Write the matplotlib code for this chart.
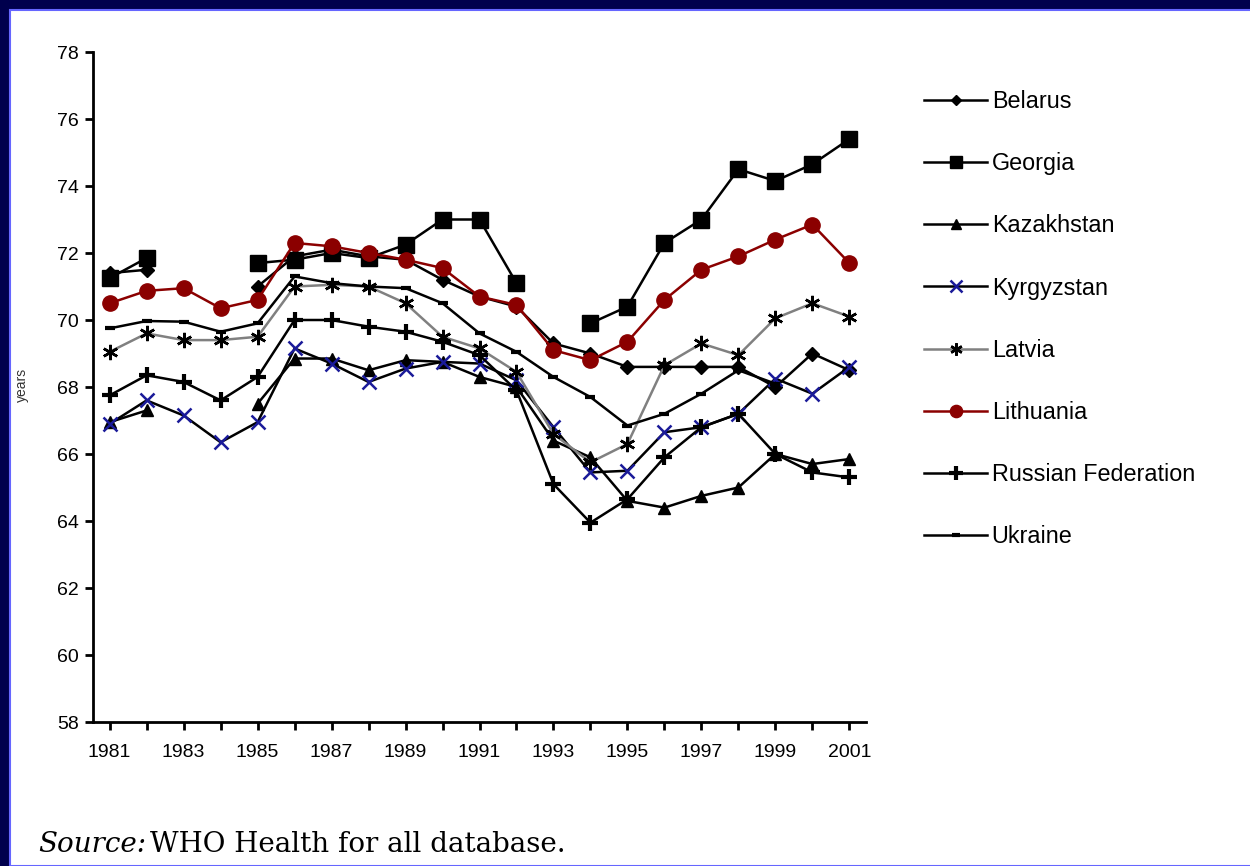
import numpy as np
import matplotlib.pyplot as plt
from matplotlib.patches import Rectangle

nan = np.nan
years = list(range(1981, 2002))

belarus = [71.4, 71.5, nan, nan, 71.0, 71.9, 72.1, 71.9, 71.8, 71.2, 70.7,
           70.4, 69.3, 69.0, 68.6, 68.6, 68.6, 68.6, 68.0, 69.0, 68.5]
georgia = [71.25, 71.85, nan, nan, 71.7, 71.8, 72.0, 71.85, 72.25, 73.0, 73.0,
           71.1, nan, 69.9, 70.4, 72.3, 73.0, 74.5, 74.15, 74.65, 75.4]
kazakhstan = [66.95, 67.3, nan, nan, 67.5, 68.85, 68.85, 68.5, 68.8, 68.75, 68.3,
              68.0, 66.4, 65.9, 64.6, 64.4, 64.75, 65.0, 66.0, 65.7, 65.85]
kyrgyzstan = [66.9, 67.6, 67.15, 66.35, 66.95, 69.15, 68.7, 68.15, 68.55, 68.75, 68.7,
              68.2, 66.8, 65.45, 65.5, 66.65, 66.8, 67.2, 68.25, 67.8, 68.6]
latvia = [69.05, 69.6, 69.4, 69.4, 69.5, 71.0, 71.05, 71.0, 70.5, 69.5, 69.15,
          68.45, 66.6, 65.75, 66.3, 68.65, 69.3, 68.95, 70.05, 70.5, 70.1]
lithuania = [70.5, 70.87, 70.95, 70.35, 70.6, 72.3, 72.2, 72.0, 71.8, 71.55, 70.7,
             70.45, 69.1, 68.8, 69.35, 70.6, 71.5, 71.9, 72.4, 72.85, 71.7]
russia = [67.75, 68.35, 68.15, 67.6, 68.3, 70.0, 70.0, 69.8, 69.65, 69.35, 68.95,
          67.9, 65.1, 63.95, 64.65, 65.9, 66.8, 67.2, 66.0, 65.45, 65.3]
ukraine = [69.75, 69.97, 69.95, 69.65, 69.9, 71.3, 71.1, 71.0, 70.95, 70.5, 69.6,
           69.05, 68.3, 67.7, 66.85, 67.2, 67.8, 68.5, 68.1, nan, nan]

names = ["Belarus", "Georgia", "Kazakhstan", "Kyrgyzstan", "Latvia",
         "Lithuania", "Russian Federation", "Ukraine"]
values = [belarus, georgia, kazakhstan, kyrgyzstan, latvia, lithuania, russia, ukraine]

styles = {
    "Belarus": dict(color="black", marker="D", ms=7, mfc="black", mec="black"),
    "Georgia": dict(color="black", marker="s", ms=11, mfc="black", mec="black"),
    "Kazakhstan": dict(color="black", marker="^", ms=9, mfc="black", mec="black"),
    "Kyrgyzstan": dict(color="black", marker="x", ms=10, mec="#1a1a99", mew=1.8),
    "Latvia": dict(color="#808080", marker=(6, 2, 0), ms=11, mec="black", mew=1.8),
    "Lithuania": dict(color="#8b0000", marker="o", ms=11, mfc="#8b0000", mec="#8b0000"),
    "Russian Federation": dict(color="black", marker="+", ms=12, mec="black", mew=3),
    "Ukraine": dict(color="black", marker="_", ms=7, mec="black", mew=3),
}

fig = plt.figure(figsize=(12.5, 8.66), dpi=100)
fig.patch.set_facecolor("#00004d")
panel = Rectangle((10 / 1250, 0), 1.0, (866 - 10) / 866, transform=fig.transFigure,
                  facecolor="white", edgecolor="#6666ff", linewidth=1.5, zorder=-10)
fig.add_artist(panel)

ax = fig.add_axes([93 / 1250, 144 / 866, (866 - 93) / 1250, (722 - 52) / 866])
ax.set_facecolor("none")
ax.set_zorder(5)

for name, vals in zip(names, values):
    ax.plot(years, vals, lw=1.8, label=name, **styles[name])

ax.set_xlim(1980.55, 2001.45)
ax.set_ylim(58, 78)
ax.set_yticks(range(58, 79, 2))
ax.set_xticks(years)
ax.set_xticklabels([str(y) if (y - 1981) % 2 == 0 else "" for y in years])

sans = ["Liberation Sans", "DejaVu Sans"]
for lab in ax.get_xticklabels() + ax.get_yticklabels():
    lab.set_family(sans)
    lab.set_fontsize(14)

for s in ["top", "right"]:
    ax.spines[s].set_visible(False)
for s in ["left", "bottom"]:
    ax.spines[s].set_linewidth(2)
ax.tick_params(direction="out", length=6, width=2, pad=4)
ax.tick_params(axis="x", pad=10)

fig.text(22 / 1250, 1 - 385 / 866, "years", rotation=90, ha="center", va="center",
         fontsize=10, color="#333333", family=sans, zorder=6)

leg = ax.legend(loc="upper left", bbox_to_anchor=(903 / 1250, 1 - 69 / 866),
                bbox_transform=fig.transFigure, frameon=False,
                prop={"family": sans, "size": 16.8}, markerscale=0.8,
                handlelength=2.7, handletextpad=0.2, labelspacing=1.68)

serif = ["DejaVu Serif"]
fig.text(38 / 1250, 1 - 845 / 866, "Source:", style="italic", fontsize=20,
         family=serif, va="center", zorder=6)
fig.text(150 / 1250, 1 - 845 / 866, "WHO Health for all database.", fontsize=20,
         family=serif, va="center", zorder=6)

fig.savefig("out.png", dpi=100, facecolor=fig.get_facecolor())
